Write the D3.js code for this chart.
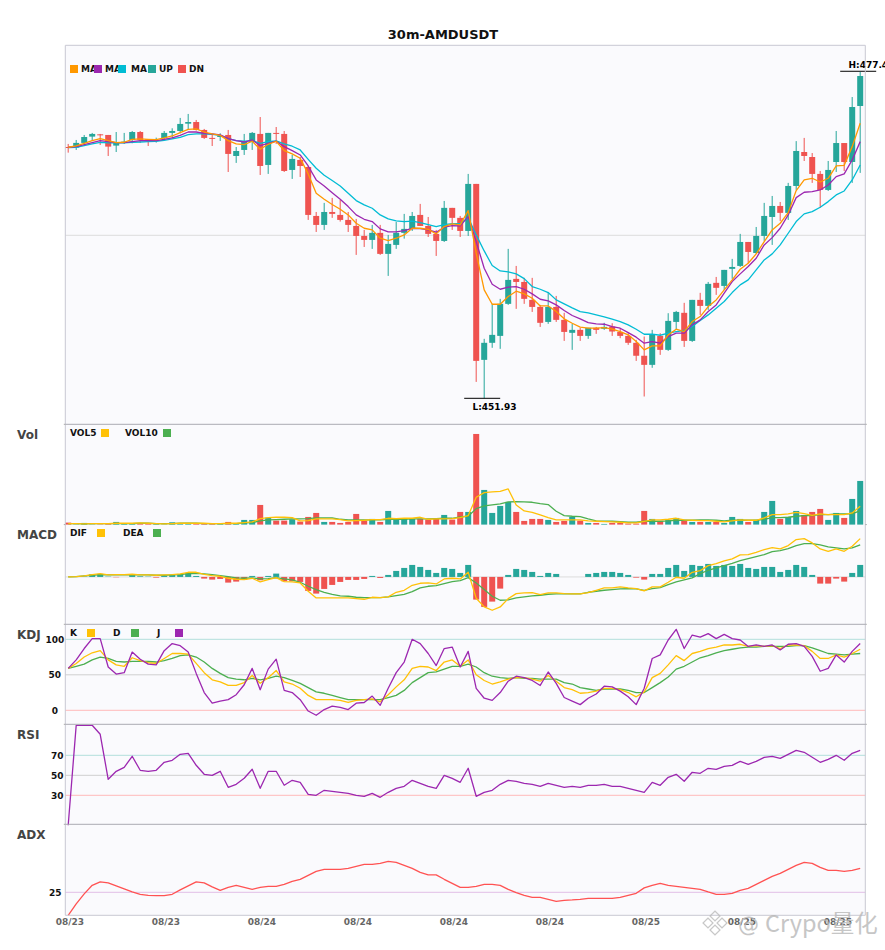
<!DOCTYPE html>
<html><head><meta charset="utf-8">
<script src="https://cdn.jsdelivr.net/npm/d3@7"></script>
<style>
html,body{margin:0;padding:0;background:#fff}
svg{display:block}
text{font-family:"DejaVu Sans",sans-serif}
</style></head><body><div id="chart"></div>
<script>
const opens=[471.54,471.49,471.86,472.35,472.53,472.48,471.65,471.91,472.09,472.71,472.14,472.04,472.22,472.64,472.79,473.36,473.49,472.87,472.25,472.35,472.48,470.84,471.31,471.93,472.56,470.14,472.64,472.56,469.75,470.53,469.98,466.16,465.46,466.47,466.24,465.85,465.38,464.60,464.29,464.84,463.20,463.90,464.84,465.15,466.24,465.38,464.76,464.21,466.79,466.01,464.99,468.66,454.93,456.26,456.80,459.30,461.25,461.01,459.61,459.06,457.89,459.06,458.05,457.04,457.27,456.80,457.43,457.35,457.53,457.11,456.80,456.26,455.25,454.54,456.80,455.71,457.89,458.60,456.41,459.61,459.14,460.94,460.70,462.03,462.26,464.13,463.27,464.60,466.08,466.94,466.40,468.50,471.15,470.76,469.44,468.19,470.37,471.85,470.37,474.74];
const highs=[471.78,472.09,472.48,472.64,472.56,472.48,472.71,472.64,472.79,472.79,472.14,472.27,472.79,473.00,473.81,474.12,473.65,472.95,472.56,472.61,472.87,471.54,472.56,472.71,473.88,472.64,473.10,472.79,470.92,470.76,470.06,466.47,467.18,467.57,467.41,466.47,465.93,465.07,465.46,465.46,464.68,465.69,466.32,466.47,467.10,466.08,465.07,467.33,466.79,466.16,469.44,468.66,456.57,459.30,459.69,463.59,462.26,461.33,461.33,459.22,460.23,459.92,458.60,457.74,457.43,457.43,457.50,457.82,457.79,457.40,457.01,456.49,456.75,457.27,457.01,458.57,458.75,459.38,459.61,460.16,461.01,461.40,461.95,462.81,464.76,464.13,465.30,467.18,467.72,467.25,468.74,472.00,472.25,471.07,469.67,470.45,472.79,471.85,475.44,477.39];
const lows=[471.10,471.31,471.80,472.04,471.70,470.84,471.15,471.78,471.83,471.86,471.62,471.88,472.09,472.22,472.61,472.87,472.82,472.17,471.62,472.01,469.59,470.30,470.92,471.31,469.36,469.44,471.78,469.59,469.05,469.20,465.85,464.91,465.07,466.01,465.72,464.91,463.12,463.74,463.59,463.12,461.48,463.59,464.39,464.99,465.38,464.52,463.04,464.13,465.07,464.52,464.60,453.21,451.93,455.87,455.79,459.22,458.91,459.30,458.67,457.50,457.74,457.89,456.41,455.71,456.41,456.57,456.96,457.27,456.80,456.62,456.10,454.85,452.07,454.31,455.32,455.63,457.27,455.94,456.33,458.44,458.83,460.00,460.39,461.25,462.18,462.47,463.20,464.21,463.90,465.77,465.85,468.19,470.45,468.74,466.79,468.11,469.59,469.67,468.74,469.52];
const closes=[471.47,471.86,472.32,472.56,472.48,471.57,471.91,471.96,472.71,472.09,472.09,472.09,472.64,472.79,473.34,473.49,472.87,472.25,472.19,472.40,471.00,471.23,471.93,472.64,470.06,472.64,472.58,469.67,470.61,470.06,466.24,465.46,466.47,466.32,465.85,465.46,464.60,464.29,464.84,463.20,463.98,464.84,465.15,466.16,465.38,464.76,464.21,466.79,466.01,464.99,468.66,454.85,456.26,456.88,459.30,461.17,461.01,459.69,459.06,457.82,459.06,458.05,457.11,457.27,456.80,457.43,457.27,457.50,457.14,456.80,456.26,455.25,454.54,456.88,455.71,457.97,458.67,456.41,459.61,459.14,460.86,460.55,461.95,462.18,464.13,463.35,464.60,466.16,466.94,466.40,468.50,471.23,470.84,469.44,468.19,469.75,471.85,470.37,474.66,477.08];
const ma5=[471.52,471.62,471.83,472.04,472.19,472.04,471.88,471.91,472.14,472.17,472.14,472.12,472.25,472.40,472.66,472.92,472.95,472.71,472.56,472.45,472.04,471.78,471.73,471.99,471.36,471.75,471.99,471.26,471.00,470.66,469.44,467.93,467.46,467.05,466.68,466.24,465.59,465.20,465.07,464.42,464.24,464.42,464.68,465.20,465.20,465.12,464.76,465.33,465.54,465.46,466.58,463.25,460.39,459.27,459.27,459.87,460.29,460.08,459.74,459.14,459.14,458.70,458.13,457.79,457.48,457.40,457.40,457.45,457.32,457.14,456.88,456.36,455.71,456.02,456.02,456.88,457.32,457.14,457.92,458.31,459.09,459.61,460.39,461.17,462.00,462.47,463.20,464.16,465.07,465.59,466.42,468.14,468.97,469.10,468.81,469.10,470.06,470.11,471.57,473.39];
const ma10=[471.52,471.57,471.73,471.88,472.04,471.96,471.88,471.88,471.96,472.04,472.04,472.04,472.14,472.25,472.45,472.71,472.71,472.61,472.56,472.48,472.19,472.04,471.93,472.09,471.65,471.83,471.99,471.57,471.26,470.92,470.06,468.97,468.50,467.98,467.46,466.89,466.24,465.90,465.72,465.15,464.91,464.91,465.02,465.20,465.17,465.07,464.89,465.28,465.41,465.38,466.11,464.16,462.08,460.83,460.44,460.60,460.65,460.44,460.08,459.66,459.53,459.22,458.78,458.39,458.13,457.84,457.74,457.71,457.53,457.40,457.06,456.70,456.23,456.36,456.23,456.75,457.01,457.01,457.66,458.05,458.70,459.22,460.13,461.04,461.64,462.21,462.86,463.90,464.47,465.20,466.24,467.59,468.01,468.06,468.19,468.58,469.23,469.44,470.53,471.96];
const ma20=[471.49,471.52,471.65,471.78,471.91,471.86,471.86,471.86,471.91,471.93,471.96,471.99,472.06,472.17,472.30,472.51,472.56,472.56,472.53,472.45,472.19,472.04,471.99,472.04,471.83,471.96,472.01,471.78,471.60,471.31,470.58,469.88,469.33,468.92,468.50,467.93,467.36,467.02,466.76,466.24,465.93,465.77,465.72,465.75,465.64,465.49,465.33,465.49,465.56,465.56,466.03,464.68,463.43,462.29,461.87,461.79,461.64,461.27,460.65,460.44,460.18,459.61,459.30,458.99,458.70,458.60,458.44,458.28,458.10,457.92,457.66,457.32,456.93,456.93,456.85,457.01,457.14,457.22,457.53,458.00,458.44,458.96,459.48,460.18,460.78,461.17,461.95,462.73,463.20,463.90,464.81,465.72,466.32,466.50,466.84,467.28,467.80,468.11,468.97,470.14];
const priceGrid=[464.65];
const vol=[6,1,5,1,1,2,8,4,3,2,2,2,1,7,4,5,3,3,3,2,8,2,14,14,59,21,12,12,16,9,23,35,8,8,5,8,32,12,17,8,41,15,17,17,17,15,17,29,15,38,38,272,104,35,56,68,38,11,17,17,14,8,11,23,12,5,5,2,5,5,3,3,41,17,11,14,20,14,8,8,8,8,5,23,17,8,14,38,71,17,23,41,29,38,47,14,35,20,77,131];
const vol5=[3,3,2,3,3,3,4,4,4,5,4,3,2,3,4,4,4,4,3,3,4,4,6,8,18,21,22,22,21,11,12,17,17,17,15,11,12,13,15,15,19,18,19,19,22,16,17,17,18,21,27,82,96,98,100,107,59,41,37,29,21,14,14,14,14,11,10,9,8,7,5,5,10,14,14,16,19,14,13,12,12,10,8,11,14,13,13,20,30,30,32,37,33,28,32,30,30,30,35,55];
const vol10=[3,3,2,3,3,3,3,3,3,4,4,3,3,3,4,4,4,3,3,3,3,3,5,6,11,14,15,16,17,17,18,20,20,20,16,14,14,14,14,14,16,16,16,17,17,17,18,19,19,23,25,48,56,59,62,68,69,68,67,63,60,40,27,25,24,17,11,10,10,9,7,7,10,10,10,11,13,13,13,14,14,13,11,13,13,13,13,16,21,21,22,25,27,27,30,30,32,32,32,42];
const macdHist=[0,0,1,8,9,1,-1,0,6,2,1,-2,3,6,8,12,3,-5,-8,-6,-17,-14,-9,3,-10,3,10,-13,-13,-15,-42,-50,-36,-24,-15,-9,-9,-6,3,-3,6,18,27,36,30,21,12,27,24,12,36,-68,-90,-74,-35,6,24,21,15,3,12,9,0,0,0,9,12,15,15,12,6,-2,-8,9,9,27,36,18,36,33,39,33,36,33,39,27,24,30,30,15,21,36,30,6,-20,-20,-5,-14,12,36];
const dif=[0,1,3,7,10,6,7,7,8,6,6,5,6,7,9,14,14,8,4,2,-4,-7,-8,-4,-15,-8,-2,-14,-15,-18,-43,-63,-63,-63,-63,-63,-65,-67,-61,-62,-60,-46,-40,-25,-19,-18,-21,-6,-4,-6,14,-64,-90,-100,-90,-65,-50,-48,-47,-53,-48,-48,-50,-51,-51,-47,-40,-33,-33,-30,-33,-35,-42,-30,-30,-16,-1,-4,14,19,34,40,48,54,66,67,74,82,88,84,94,112,115,102,84,77,84,77,92,115];
const dea=[0,1,3,5,7,6,6,6,6,6,6,5,5,6,7,10,11,9,7,4,1,-3,-4,-3,-6,-5,-2,-6,-9,-16,-28,-38,-46,-52,-57,-58,-61,-62,-62,-62,-60,-56,-52,-44,-33,-28,-26,-20,-14,-11,-2,-18,-38,-58,-70,-69,-63,-60,-57,-55,-52,-51,-51,-51,-51,-46,-43,-40,-38,-36,-35,-36,-40,-35,-32,-23,-15,-9,-3,10,20,27,34,41,49,55,61,67,76,79,85,94,100,100,96,90,87,84,87,96];
const kdjK=[59,66,75,81,84,71,64,62,74,70,67,66,73,80,80,79,66,53,43,40,35,35,39,49,38,46,56,40,37,31,21,15,15,15,14,11,14,15,16,12,22,33,43,59,62,61,56,68,71,62,71,50,42,37,40,44,46,46,44,41,49,41,32,29,24,25,27,31,31,29,25,19,26,46,52,64,77,70,80,83,87,89,92,92,93,90,91,90,91,87,92,92,91,83,73,73,78,75,80,86];
const kdjD=[59,62,65,71,75,73,69,68,69,69,69,68,70,73,77,78,75,68,59,52,46,44,43,45,43,45,48,46,42,38,32,26,24,21,18,15,15,15,15,15,18,21,28,39,46,53,54,58,62,62,65,61,53,48,46,45,46,45,45,44,44,44,39,37,32,30,28,30,30,30,28,25,25,32,39,47,58,62,68,74,77,81,84,86,88,89,89,90,90,90,90,91,91,88,84,80,79,78,79,80];
const kdjJ=[59,71,87,101,101,61,51,53,82,72,65,64,84,94,91,82,52,25,10,13,15,22,36,59,29,58,72,28,25,15,-1,-7,1,6,4,1,10,11,20,7,31,53,68,100,94,80,63,87,89,61,83,31,17,14,25,41,48,46,42,35,54,38,18,13,8,17,23,34,33,27,19,8,31,73,78,99,114,87,106,103,108,101,107,101,99,90,92,90,92,85,93,94,90,76,55,59,78,68,83,94];
const rsi=[0,100,100,100,91,46,54,58,69,55,54,55,63,65,71,72,60,51,50,54,38,41,47,56,37,54,54,40,45,43,31,30,35,34,33,32,30,29,32,28,33,37,39,45,42,39,37,50,47,43,57,29,33,35,41,45,44,42,41,39,42,40,38,39,38,40,40,41,39,39,37,35,33,43,40,48,51,44,53,52,57,56,59,60,64,61,64,68,69,67,71,75,73,68,63,66,70,65,72,75];
const adx=[13.5,19.2,24.2,28.5,30.2,29.7,28.2,26.7,25.2,24,23.5,23.3,23.3,24,26.2,28.2,30.2,29.7,27.7,26,27.5,28.5,27.5,26.5,27.5,28,28,29,30.5,31.5,33.5,35.5,36.5,36.5,36.5,37,38,39,39,39.5,40.5,40,38.5,37,35,33.7,33.7,31.5,29.5,27.5,27.5,28,29,29,28.5,26.5,24.8,23.5,22.5,22.5,21.5,20.5,21,21.2,21.5,22,22,22,22,22.5,23.5,24.5,27.2,28.5,29.5,28.5,28,27.5,27,26.5,25.2,24,24,24.5,26,27,29,31,33,34.5,36.5,38.5,40,39.5,37.5,36,36,35.5,36,37];
const tickIndex=[0,12,24,36,48,60,72,84,96];
const tickLabels=["08/23","08/23","08/24","08/24","08/24","08/24","08/25","08/25","08/25"];
const kdjTicks=[100,50,0], rsiTicks=[70,50,30], adxTicks=[25];
const highLabel="H:477.45", lowLabel="L:451.93", highValue=477.45, lowValue=451.93;

const W=885,H=950,L=65.3,R=865.3;
const UP="#26a69a",DN="#ef5350";
const c={ma5:"#ff9800",ma10:"#9c27b0",ma20:"#00bcd4",y:"#ffc107",g:"#4caf50",p:"#9c27b0",adx:"#ff5252"};
const idx=d3.range(closes.length);
const x=d3.scaleBand().domain(idx).range([64.2,864.2]);
const cx=i=>x(i)+x.bandwidth()/2;
const svg=d3.select("#chart").append("svg").attr("width",W).attr("height",H);

svg.append("rect").attr("x",L).attr("y",45.3).attr("width",R-L).attr("height",870).attr("fill","#fafafd");

const yP=d3.scaleLinear().domain([449.92,479.5]).range([424.06,45]);
const yV=d3.scaleLinear().domain([0,301]).range([524.6,424.3]);
const yM=d3.scaleLinear().domain([-143,157]).range([624.6,524.6]);
const yK=d3.scaleLinear().domain([0,100]).range([710.3,639.3]);
const yR=d3.scaleLinear().domain([0,100]).range([825.3,725.3]);
const yA=d3.scaleLinear().domain([13.5,59]).range([915.3,824.3]);

function hline(y,col,w){svg.append("line").attr("x1",L).attr("x2",R).attr("y1",y).attr("y2",y).attr("stroke",col).attr("stroke-width",w||1);}
priceGrid.forEach(v=>hline(yP(v),"#dcdcdc"));
hline(yM(0),"#dcdcdc");
hline(yK(100),"#b2dfdb");hline(yK(50),"#cfcfcf");hline(yK(0),"#ffb9b9");
hline(yR(70),"#b2dfdb");hline(yR(50),"#cfcfcf");hline(yR(30),"#ffb9b9");
hline(yA(25),"#e1bee7");

const line=(y)=>d3.line().x((d,i)=>cx(i)).y(d=>y(d));
function drawLine(data,y,col,w){svg.append("path").datum(data).attr("d",line(y)).attr("fill","none").attr("stroke",col).attr("stroke-width",w||1.3).attr("stroke-linejoin","round");}

// candles
const g=svg.append("g");
g.selectAll("line").data(idx).join("line")
 .attr("x1",cx).attr("x2",cx).attr("y1",i=>yP(highs[i])).attr("y2",i=>yP(lows[i]))
 .attr("stroke",i=>closes[i]>=opens[i]?UP:DN).attr("stroke-width",1);
g.selectAll("rect").data(idx).join("rect")
 .attr("x",i=>x(i)+1).attr("width",6)
 .attr("y",i=>yP(Math.max(opens[i],closes[i])))
 .attr("height",i=>Math.max(1,Math.abs(yP(opens[i])-yP(closes[i]))))
 .attr("fill",i=>closes[i]>=opens[i]?UP:DN);
drawLine(ma20,yP,c.ma20);drawLine(ma10,yP,c.ma10);drawLine(ma5,yP,c.ma5);

// high/low markers
svg.append("line").attr("x1",cx(99)-20).attr("x2",cx(99)+16).attr("y1",yP(highValue)).attr("y2",yP(highValue)).attr("stroke","#000").attr("stroke-width",1);
svg.append("text").attr("x",cx(99)-11.7).attr("y",yP(highValue)-3.2).attr("font-size",9).attr("font-weight","bold").text(highLabel);
svg.append("line").attr("x1",cx(52)-20).attr("x2",cx(52)+16).attr("y1",yP(lowValue)).attr("y2",yP(lowValue)).attr("stroke","#000").attr("stroke-width",1);
svg.append("text").attr("x",cx(52)-11.7).attr("y",yP(lowValue)+12).attr("font-size",9).attr("font-weight","bold").text(lowLabel);

// volume
svg.append("g").selectAll("rect").data(idx).join("rect")
 .attr("x",i=>x(i)+1).attr("width",6).attr("y",i=>yV(vol[i])).attr("height",i=>yV(0)-yV(vol[i]))
 .attr("fill",i=>closes[i]>=opens[i]?UP:DN);
drawLine(vol10,yV,c.g);drawLine(vol5,yV,c.y);

// macd
svg.append("g").selectAll("rect").data(idx.filter(i=>macdHist[i]!==0)).join("rect")
 .attr("x",i=>x(i)+1).attr("width",6).attr("y",i=>Math.min(yM(0),yM(macdHist[i]))).attr("height",i=>Math.abs(yM(macdHist[i])-yM(0)))
 .attr("fill",i=>macdHist[i]>0?UP:DN);
drawLine(dea,yM,c.g);drawLine(dif,yM,c.y);

// kdj
drawLine(kdjD,yK,c.g);drawLine(kdjK,yK,c.y);drawLine(kdjJ,yK,c.p);
// rsi
drawLine(rsi,yR,c.p);
// adx
drawLine(adx,yA,c.adx);

// frames
const frame=svg.append("g");
frame.append("line").attr("x1",L).attr("x2",L).attr("y1",45.3).attr("y2",915.3).attr("stroke","#c8c8d2");
frame.append("line").attr("x1",R).attr("x2",R).attr("y1",45.3).attr("y2",915.3).attr("stroke","#c8c8d2");
frame.append("line").attr("x1",L).attr("x2",R).attr("y1",45.3).attr("y2",45.3).attr("stroke","#c8c8d2");
frame.append("line").attr("x1",L).attr("x2",R).attr("y1",915.3).attr("y2",915.3).attr("stroke","#c8c8d2");
[424.3,624.3,724.3,824.3].forEach(y=>frame.append("line").attr("x1",L).attr("x2",R).attr("y1",y).attr("y2",y).attr("stroke","#aaaab2"));
[424.3,524.6,624.3,724.3,824.3].forEach(y=>{
 frame.append("line").attr("x1",L-1.5).attr("x2",L).attr("y1",y).attr("y2",y).attr("stroke","#aaa");
 frame.append("line").attr("x1",R).attr("x2",R+1.5).attr("y1",y).attr("y2",y).attr("stroke","#aaa");
});

// axes
function yAxis(scale,ticks,xc){
 const a=svg.append("g").attr("transform",`translate(${xc},0)`).call(d3.axisLeft(scale).tickValues(ticks).tickSize(0).tickPadding(0));
 a.select(".domain").remove();
 a.selectAll("text").attr("x",0).attr("text-anchor","middle").attr("font-size",9).attr("font-weight","bold").attr("font-family","DejaVu Sans").attr("fill","#111");
}
yAxis(yK,kdjTicks,54.8);
yAxis(yR,rsiTicks,57.2);
yAxis(yA,adxTicks,55.2);
const xa=svg.append("g").attr("transform","translate(0,915.3)").call(d3.axisBottom(x).tickValues(tickIndex).tickSize(0).tickPadding(3.5).tickFormat((d,i)=>tickLabels[i]));
xa.select(".domain").remove();
xa.selectAll("text").attr("dx",1.7).attr("font-size",9).attr("font-weight","bold").attr("font-family","DejaVu Sans").attr("fill","#666");

// titles
svg.append("text").attr("x",443).attr("y",39).attr("text-anchor","middle").attr("font-size",13).attr("font-weight","bold").attr("fill","#111").text("30m-AMDUSDT");
[["Vol",439],["MACD",539],["KDJ",639],["RSI",739],["ADX",839]].forEach(([t,y])=>svg.append("text").attr("x",17).attr("y",y).attr("font-size",12).attr("font-weight","bold").attr("fill","#444").text(t));

// legends
function legend(items,y){
 items.forEach(it=>svg.append("text").attr("x",it.tx).attr("y",y+7.3).attr("font-size",9).attr("font-weight","bold").attr("fill","#111").text(it.t));
 items.forEach(it=>svg.append("rect").attr("x",it.sx).attr("y",y).attr("width",8).attr("height",8).attr("fill",it.col));
}
legend([{t:"MA",tx:81,sx:70,col:c.ma5},{t:"MA",tx:105,sx:94,col:c.ma10},{t:"MA",tx:131,sx:118,col:c.ma20},{t:"UP",tx:159,sx:148,col:UP},{t:"DN",tx:189,sx:178,col:DN}],65);
legend([{t:"VOL5",tx:70,sx:101,col:c.y},{t:"VOL10",tx:125,sx:163,col:c.g}],429);
legend([{t:"DIF",tx:70,sx:97,col:c.y},{t:"DEA",tx:123,sx:153,col:c.g}],529);
legend([{t:"K",tx:70,sx:87,col:c.y},{t:"D",tx:113,sx:131,col:c.g},{t:"J",tx:157,sx:175,col:c.p}],629);

// watermark
const wm=svg.append("g").attr("opacity",0.8);
[[715,916,7],[708,923,7],[722,923,7],[715,930,7]].forEach(([a,b,s])=>wm.append("rect").attr("x",a-s/2).attr("y",b-s/2).attr("width",s).attr("height",s).attr("transform",`rotate(45 ${a} ${b})`).attr("fill","none").attr("stroke","#bbb").attr("stroke-width",1.3));
[["@",738,"DejaVu Sans",21],["Crypo量化",765,"Noto Sans CJK SC",23.5]].forEach(([t,xx,f,fs])=>{
 wm.append("text").attr("x",xx).attr("y",932).attr("font-size",fs).style("font-family",`'${f}'`).attr("fill","#b8b8b8").text(t);
});
</script></body></html>
